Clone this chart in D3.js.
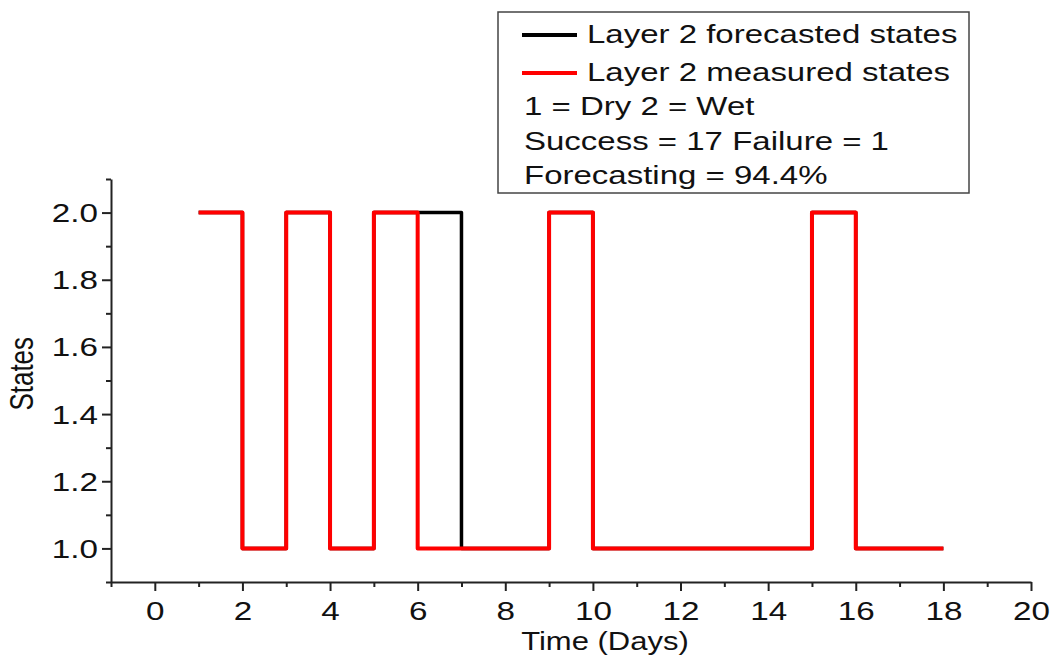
<!DOCTYPE html>
<html>
<head>
<meta charset="utf-8">
<script src="https://cdn.jsdelivr.net/npm/d3@7"></script>
<style>
  html, body { margin: 0; padding: 0; background: #fff; }
  svg { display: block; }
  text { font-family: "Liberation Sans", Arial, sans-serif; fill: #111; }
</style>
</head>
<body>
<svg id="chart" width="1063" height="660"></svg>
<script>
// ---- data ----
const days = [1, 2, 3, 4, 5, 6, 7, 8, 9, 10, 11, 12, 13, 14, 15, 16, 17, 18];
const measured = [2, 1, 2, 1, 2, 1, 1, 1, 2, 1, 1, 1, 1, 1, 2, 1, 1, 1];
const forecasted = [2, 1, 2, 1, 2, 2, 1, 1, 2, 1, 1, 1, 1, 1, 2, 1, 1, 1];
const xMajorTicks = [0, 2, 4, 6, 8, 10, 12, 14, 16, 18, 20];
const xMinorTicks = [-1, 1, 3, 5, 7, 9, 11, 13, 15, 17, 19];
const yMajorTicks = [1.0, 1.2, 1.4, 1.6, 1.8, 2.0];
const yMinorTicks = [0.9, 1.1, 1.3, 1.5, 1.7, 1.9, 2.1];
const seriesNames = ["Layer 2 forecasted states", "Layer 2 measured states"];
const noteLines = ["1 = Dry 2 = Wet", "Success = 17 Failure = 1", "Forecasting = 94.4%"];
const xTitle = "Time (Days)";
const yTitle = "States";

// ---- layout ----
const svg = d3.select("#chart");
const x = d3.scaleLinear().domain([-1, 20]).range([111, 1031]);
const y = d3.scaleLinear().domain([0.9, 2.1]).range([582, 179]);
const axisColor = "#222";
const FS = 25;
const SX = 1.33;

// ---- axes ----
const gx = svg.append("g").attr("transform", `translate(0,${y(0.9)})`);
gx.call(d3.axisBottom(x).tickValues(xMajorTicks).tickSize(9).tickSizeOuter(0).tickFormat(d3.format("d")));
const gxm = svg.append("g").attr("transform", `translate(0,${y(0.9)})`);
gxm.call(d3.axisBottom(x).tickValues(xMinorTicks).tickSize(5).tickSizeOuter(0).tickFormat(""));
gxm.select(".domain").remove();

const gy = svg.append("g").attr("transform", `translate(${x(-1)},0)`);
gy.call(d3.axisLeft(y).tickValues(yMajorTicks).tickSize(9).tickSizeOuter(0).tickFormat(d3.format(".1f")));
const gym = svg.append("g").attr("transform", `translate(${x(-1)},0)`);
gym.call(d3.axisLeft(y).tickValues(yMinorTicks).tickSize(5).tickSizeOuter(0).tickFormat(""));
gym.select(".domain").remove();

svg.selectAll(".domain, .tick line").attr("stroke", axisColor).attr("stroke-width", 2);

gx.selectAll(".tick text")
  .attr("y", null).attr("dy", null)
  .attr("font-size", FS).attr("font-family", "Liberation Sans, Arial, sans-serif")
  .attr("fill", "#111")
  .attr("transform", `translate(0,38) scale(${SX},1)`);

gy.selectAll(".tick text")
  .attr("x", null).attr("dy", "0.36em")
  .attr("font-size", FS).attr("font-family", "Liberation Sans, Arial, sans-serif")
  .attr("fill", "#111")
  .attr("text-anchor", "end")
  .attr("transform", `translate(-13,0) scale(${SX},1)`);

// axis titles
svg.append("text")
  .attr("text-anchor", "middle")
  .attr("font-size", FS)
  .attr("transform", `translate(605,650) scale(1.24,1)`)
  .text(xTitle);

svg.append("text")
  .attr("text-anchor", "middle")
  .attr("font-size", 26)
  .attr("transform", `translate(33,${y(1.52)}) scale(1.3,1) rotate(-90)`)
  .text(yTitle);

// ---- lines ----
const pts = (vals) => days.map((d, i) => [d, vals[i]]);
const line = d3.line().x(d => x(d[0])).y(d => y(d[1])).curve(d3.curveStepAfter);

svg.append("path")
  .attr("d", line(pts(forecasted)))
  .attr("fill", "none").attr("stroke", "#000").attr("stroke-width", 3.5)
  .attr("stroke-linejoin", "round");

svg.append("path")
  .attr("d", line(pts(measured)))
  .attr("fill", "none").attr("stroke", "#ff0000").attr("stroke-width", 4)
  .attr("stroke-linejoin", "round");

// ---- legend ----
const lg = svg.append("g");
lg.append("rect")
  .attr("x", 498).attr("y", 12).attr("width", 471).attr("height", 181)
  .attr("fill", "#fff").attr("stroke", "#444").attr("stroke-width", 1.5);

const legendColors = ["#000", "#ff0000"];
seriesNames.forEach((name, i) => {
  const yy = 35 + i * 38;
  lg.append("line")
    .attr("x1", 522).attr("x2", 577).attr("y1", yy).attr("y2", yy)
    .attr("stroke", legendColors[i]).attr("stroke-width", 4);
  lg.append("text")
    .attr("font-size", FS)
    .attr("transform", `translate(587,${yy + 8}) scale(1.32,1)`)
    .text(name);
});
noteLines.forEach((t, i) => {
  lg.append("text")
    .attr("font-size", FS)
    .attr("transform", `translate(524,${115 + i * 34.5}) scale(1.32,1)`)
    .text(t);
});
</script>
</body>
</html>
